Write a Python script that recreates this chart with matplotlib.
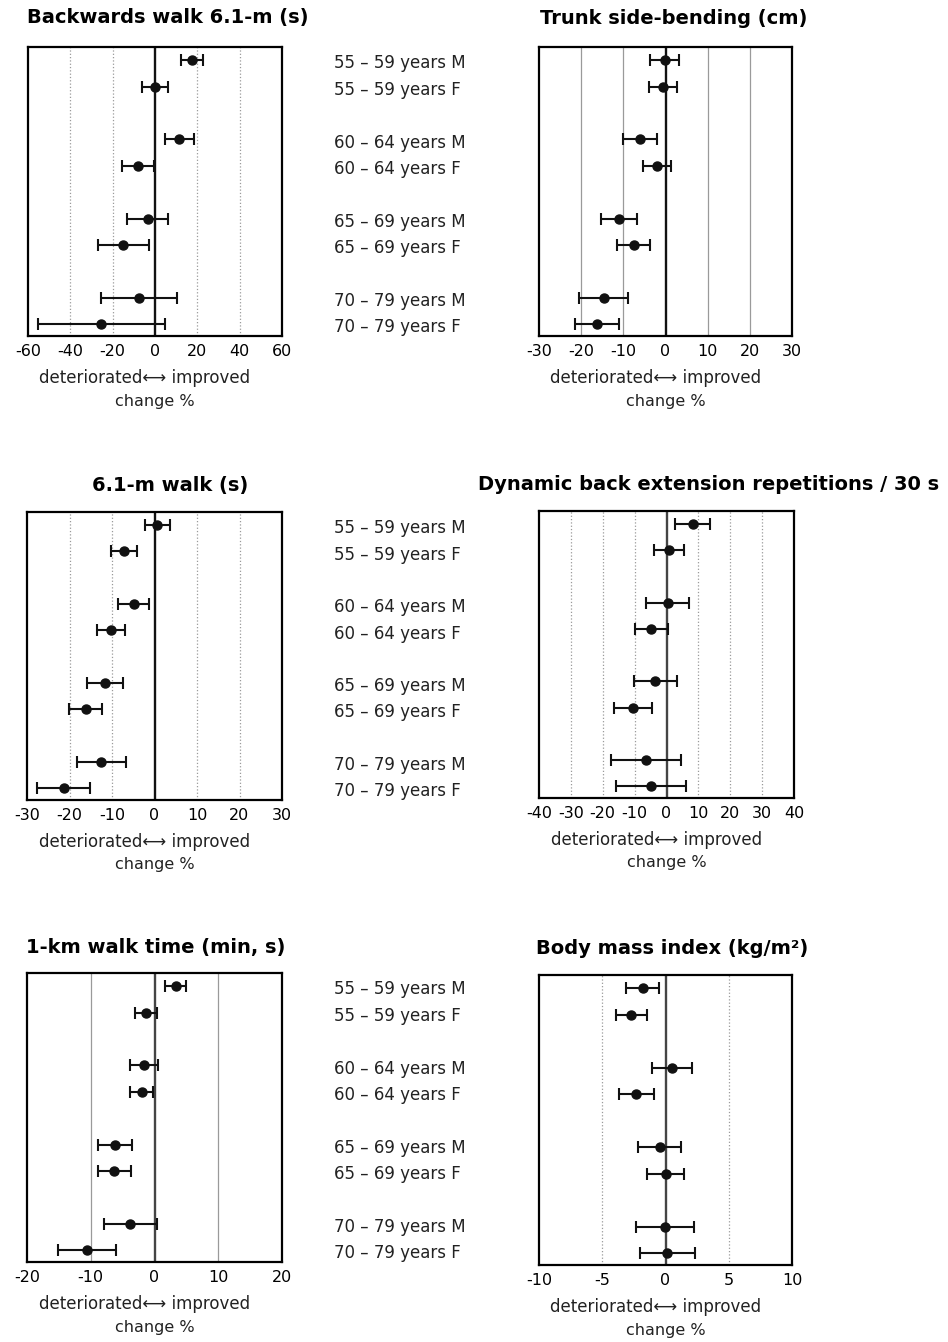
import matplotlib
matplotlib.use("Agg")
import matplotlib.pyplot as plt
import matplotlib.transforms as mtransforms

groups = ["55 – 59 years M", "55 – 59 years F",
          "60 – 64 years M", "60 – 64 years F",
          "65 – 69 years M", "65 – 69 years F",
          "70 – 79 years M", "70 – 79 years F"]

backwards_mean = [17.5, 0.0, 11.5, -8.0, -3.5, -15.0, -7.5, -25.5]
backwards_err = [5.0, 6.0, 7.0, 7.5, 9.5, 12.0, 18.0, 30.0]

trunk_mean = [-0.2, -0.5, -6.0, -2.0, -11.0, -7.5, -14.7, -16.2]
trunk_err = [3.5, 3.3, 4.0, 3.4, 4.2, 3.9, 5.9, 5.2]

walk6_mean = [0.7, -7.2, -4.9, -10.3, -11.7, -16.2, -12.5, -21.4]
walk6_err = [3.0, 3.0, 3.7, 3.3, 4.2, 3.9, 5.8, 6.2]

backext_mean = [8.3, 0.8, 0.4, -4.8, -3.5, -10.6, -6.3, -4.8]
backext_err = [5.5, 4.6, 6.8, 5.2, 6.8, 5.9, 11.0, 11.0]

walk1k_mean = [3.3, -1.3, -1.6, -2.0, -6.2, -6.3, -3.8, -10.6]
walk1k_err = [1.7, 1.7, 2.2, 1.8, 2.7, 2.6, 4.2, 4.6]

bmi_mean = [-1.8, -2.7, 0.5, -2.3, -0.45, 0.0, -0.05, 0.15]
bmi_err = [1.3, 1.25, 1.6, 1.4, 1.7, 1.5, 2.3, 2.15]

plt.rcParams['font.family'] = ['DejaVu Sans']
plt.rcParams['axes.unicode_minus'] = False

W, H = 948, 1342
fig = plt.figure(figsize=(W / 100, H / 100), dpi=100)

# rows are drawn in pairs with a gap between age groups
pos = [i + i // 2 for i in range(len(groups))]


def px_axes(x0, y0, x1, y1):
    return fig.add_axes([x0 / W, 1 - y1 / H, (x1 - x0) / W, (y1 - y0) / H])


def panel(box, title, title_xy, mean, err, lim, step, grid, gstyle, zcol):
    ax = px_axes(*box)
    for g in grid:
        ax.axvline(g, color="#9a9a9a", lw=0.9, ls=gstyle, zorder=1)
    ax.axvline(0, color=zcol, lw=1.7, zorder=2)
    ax.errorbar(mean, pos, xerr=err, fmt="o", color="#111111", ms=6.5,
                elinewidth=1.5, capsize=4, capthick=1.5, zorder=3)
    ax.set_xlim(-lim, lim)
    ax.set_ylim(10.45, -0.5)
    ax.set_xticks(range(-lim, lim + 1, step))
    ax.set_yticks([])
    ax.tick_params(axis="x", length=0, pad=6, labelsize=11.5)
    for s in ax.spines.values():
        s.set_linewidth(1.6)
    ax.text(0.46, -0.145, "deteriorated\u27f7 improved", transform=ax.transAxes,
            ha="center", va="center", fontsize=12, color="#222222")
    ax.text(0.5, -0.225, "change %", transform=ax.transAxes,
            ha="center", va="center", fontsize=11.5, color="#222222")
    fig.text(title_xy[0] / W, 1 - title_xy[1] / H, title, ha="center",
             va="center", fontsize=14, fontweight="bold")
    return ax


ax1 = panel((28, 47, 282, 336), "Backwards walk 6.1-m (s)", (168, 18),
            backwards_mean, backwards_err, 60, 20, [-40, -20, 20, 40], ":", "#111111")
panel((539, 47, 792, 336), "Trunk side-bending (cm)", (674, 18),
      trunk_mean, trunk_err, 30, 10, [-20, -10, 10, 20], "-", "#111111")
ax3 = panel((27, 512, 282, 800), "6.1-m walk (s)", (170, 485),
            walk6_mean, walk6_err, 30, 10, [-20, -10, 10, 20], ":", "#111111")
panel((539, 511, 794, 798), "Dynamic back extension repetitions / 30 s", (709, 485),
      backext_mean, backext_err, 40, 10, [-30, -20, -10, 10, 20, 30], ":", "#444444")
ax5 = panel((27, 973, 282, 1262), "1-km walk time (min, s)", (156, 948),
            walk1k_mean, walk1k_err, 20, 10, [-10, 10], "-", "#444444")
panel((539, 975, 792, 1265), "Body mass index (kg/m²)", (672, 948),
      bmi_mean, bmi_err, 10, 5, [-5, 5], ":", "#444444")

# group labels in the middle column
for ax in (ax1, ax3, ax5):
    tr = mtransforms.blended_transform_factory(fig.transFigure, ax.transData)
    for p, g in zip(pos, groups):
        ax.text(334 / W, p + 0.12, g, transform=tr, ha="left", va="center",
                fontsize=12, color="#222222")

fig.savefig("out.png", dpi=100)
